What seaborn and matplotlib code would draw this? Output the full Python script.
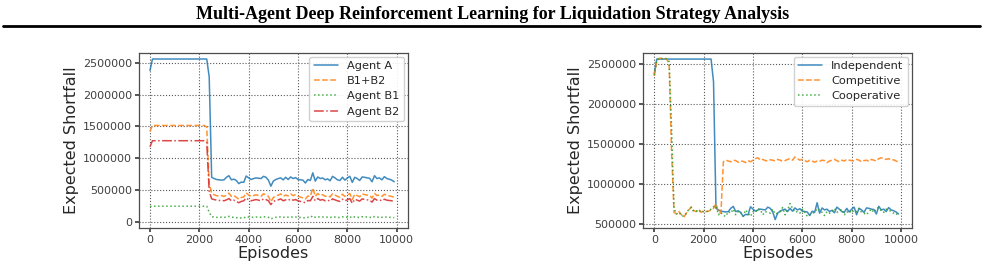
import matplotlib
matplotlib.use("Agg")
import matplotlib.pyplot as plt
from matplotlib.lines import Line2D
import seaborn as sns

# episodes: one evaluation every 100 episodes
episodes = list(range(0, 10000, 100))

# left panel: Agent A vs. the two B agents
agent_a = [2380000] + [2560000] * 23 + [2280000, 700000] + [
    680000, 665000, 660000, 655000, 660000, 700000, 725000, 660000, 670000, 650000,
    600000, 625000, 620000, 720000, 690000, 665000, 680000, 690000, 685000, 680000,
    715000, 700000, 655000, 560000, 640000, 665000, 680000, 690000, 660000, 700000,
    665000, 705000, 680000, 695000, 665000, 660000, 655000, 610000, 665000, 650000,
    770000, 640000, 705000, 680000, 690000, 660000, 675000, 645000, 715000, 690000,
    660000, 650000, 700000, 655000, 690000, 715000, 620000, 700000, 680000, 650000,
    705000, 700000, 690000, 685000, 630000, 725000, 680000, 690000, 660000, 710000,
    680000, 670000, 655000, 630000]

b1_plus_b2 = [1420000] + [1515000] * 22 + [1490000, 600000, 450000] + [
    425000, 410000, 405000, 412000, 398000, 420000, 450000, 400000, 412000, 385000,
    355000, 382000, 390000, 455000, 420000, 400000, 412000, 425000, 413000, 400000,
    440000, 426000, 400000, 315000, 382000, 405000, 419000, 438000, 400000, 421000,
    407000, 438000, 412000, 425000, 400000, 388000, 375000, 358000, 405000, 398000,
    530000, 400000, 445000, 412000, 426000, 400000, 413000, 391000, 440000, 420000,
    400000, 386000, 433000, 400000, 419000, 445000, 350000, 433000, 412000, 393000,
    440000, 427000, 420000, 413000, 372000, 447000, 412000, 420000, 400000, 433000,
    413000, 406000, 398000, 385000]

agent_b1 = [240000] + [245000] * 23 + [150000, 80000] + [
    75000, 70000, 70000, 72000, 68000, 75000, 85000, 70000, 72000, 65000,
    55000, 62000, 60000, 80000, 75000, 70000, 72000, 75000, 73000, 70000,
    80000, 76000, 70000, 45000, 62000, 70000, 74000, 78000, 70000, 76000,
    72000, 78000, 72000, 75000, 70000, 68000, 65000, 58000, 70000, 68000,
    95000, 70000, 80000, 72000, 76000, 70000, 73000, 66000, 80000, 75000,
    70000, 66000, 78000, 70000, 74000, 80000, 60000, 78000, 72000, 68000,
    80000, 77000, 75000, 73000, 62000, 82000, 72000, 75000, 70000, 78000,
    73000, 71000, 68000, 65000]

agent_b2 = [1180000] + [1275000] * 22 + [1250000, 480000, 360000] + [
    350000, 340000, 335000, 340000, 330000, 345000, 365000, 330000, 340000, 320000,
    300000, 320000, 330000, 375000, 345000, 330000, 340000, 350000, 340000, 330000,
    360000, 350000, 330000, 270000, 320000, 335000, 345000, 360000, 330000, 345000,
    335000, 360000, 340000, 350000, 330000, 320000, 310000, 300000, 335000, 330000,
    400000, 330000, 365000, 340000, 350000, 330000, 340000, 325000, 360000, 345000,
    330000, 320000, 355000, 330000, 345000, 365000, 290000, 355000, 340000, 325000,
    360000, 350000, 345000, 340000, 310000, 365000, 340000, 345000, 330000, 355000,
    340000, 335000, 330000, 320000]

# right panel: training regimes (independent run is the Agent A curve)
independent = agent_a

competitive = [2350000, 2540000, 2570000, 2570000, 2570000, 2560000, 2500000, 1400000, 650000,
    630000, 660000, 620000, 590000, 640000, 680000, 720000, 670000, 660000, 690000,
    650000, 670000, 660000, 665000, 680000, 700000, 760000, 650000, 640000,
    1280000,
    1300000, 1290000, 1280000, 1300000, 1295000, 1275000, 1290000, 1285000, 1270000, 1295000,
    1280000, 1300000, 1320000, 1330000, 1300000, 1310000, 1295000, 1290000, 1305000, 1300000,
    1290000, 1310000, 1300000, 1285000, 1295000, 1310000, 1320000, 1300000, 1340000, 1320000,
    1300000, 1310000, 1295000, 1280000, 1300000, 1290000, 1275000, 1290000, 1285000, 1300000,
    1295000, 1270000, 1290000, 1300000, 1310000, 1295000, 1280000, 1300000, 1290000, 1310000,
    1300000, 1295000, 1290000, 1310000, 1300000, 1280000, 1295000, 1300000, 1285000, 1310000,
    1300000, 1290000, 1320000, 1330000, 1315000, 1310000, 1320000, 1300000, 1305000, 1290000,
    1275000]

cooperative = [2360000, 2550000, 2565000, 2565000, 2565000, 2565000, 2530000, 1700000, 700000,
    630000, 650000, 610000, 600000, 640000, 690000, 710000, 660000, 665000, 680000,
    650000, 660000, 655000, 670000, 690000, 720000, 730000, 620000, 650000, 610000,
    600000, 660000, 640000, 690000, 620000, 660000, 650000, 600000, 680000, 640000,
    600000, 660000, 650000, 700000, 680000, 620000, 660000, 650000, 640000, 690000,
    630000, 640000, 660000, 710000, 620000, 680000, 760000, 700000, 650000, 660000,
    640000, 690000, 650000, 600000, 620000, 640000, 650000, 700000, 680000, 650000,
    610000, 660000, 640000, 660000, 700000, 650000, 670000, 690000, 620000, 660000,
    640000, 680000, 650000, 660000, 700000, 650000, 640000, 620000, 660000, 690000,
    650000, 700000, 710000, 670000, 650000, 690000, 680000, 660000, 640000, 620000,
    650000]

left_series = [("Agent A", agent_a), ("B1+B2", b1_plus_b2),
               ("Agent B1", agent_b1), ("Agent B2", agent_b2)]
right_series = [("Independent", independent), ("Competitive", competitive),
                ("Cooperative", cooperative)]

colors = ["#1f77b4", "#ff7f0e", "#2ca02c", "#d62728"]
styles = ["-", "--", ":", "-."]

sns.set_theme(style="whitegrid", rc={
    "grid.linestyle": ":",
    "grid.color": "0.35",
    "grid.linewidth": 0.8,
    "axes.edgecolor": "0.3",
    "axes.linewidth": 0.9,
    "xtick.bottom": True,
    "ytick.left": True,
    "xtick.major.size": 3,
    "ytick.major.size": 3,
    "xtick.color": "0.25",
    "ytick.color": "0.25",
})
plt.rcParams["font.family"] = ["DejaVu Sans"]

fig = plt.figure(figsize=(9.85, 2.70), dpi=100)
ax1 = fig.add_axes([0.141, 0.155, 0.273, 0.650])
ax2 = fig.add_axes([0.653, 0.157, 0.273, 0.648])


def draw(ax, series, ylim, yticks):
    for i, (name, vals) in enumerate(series):
        sns.lineplot(x=episodes, y=vals, ax=ax, color=colors[i], linestyle=styles[i],
                     linewidth=1.1, alpha=0.85, label=name)
    ax.set_xlim(-450, 10450)
    ax.set_ylim(*ylim)
    ax.set_xticks([0, 2000, 4000, 6000, 8000, 10000])
    ax.set_yticks(yticks)
    ax.ticklabel_format(style="plain", axis="y", useOffset=False)
    ax.tick_params(labelsize=8, pad=2)
    ax.set_xlabel("Episodes", fontsize=11.5, labelpad=1)
    ax.set_ylabel("Expected Shortfall", fontsize=11.5, labelpad=3)
    leg = ax.legend(loc="upper right", fontsize=8.2, frameon=True, handlelength=2.1,
                    borderpad=0.4, labelspacing=0.45, borderaxespad=0.35)
    leg.get_frame().set_edgecolor("0.8")
    leg.get_frame().set_alpha(0.9)


draw(ax1, left_series, (-100000, 2660000), [0, 500000, 1000000, 1500000, 2000000, 2500000])
draw(ax2, right_series, (460000, 2640000), [500000, 1000000, 1500000, 2000000, 2500000])

fig.text(0.5, 0.948, "Multi-Agent Deep Reinforcement Learning for Liquidation Strategy Analysis",
         ha="center", va="center", fontsize=13, fontweight="bold", color="black",
         family=["Liberation Serif", "DejaVu Serif"])
fig.add_artist(Line2D([0.003, 0.995], [0.903, 0.903], color="black", linewidth=2))

fig.savefig("out.png", dpi=100)
